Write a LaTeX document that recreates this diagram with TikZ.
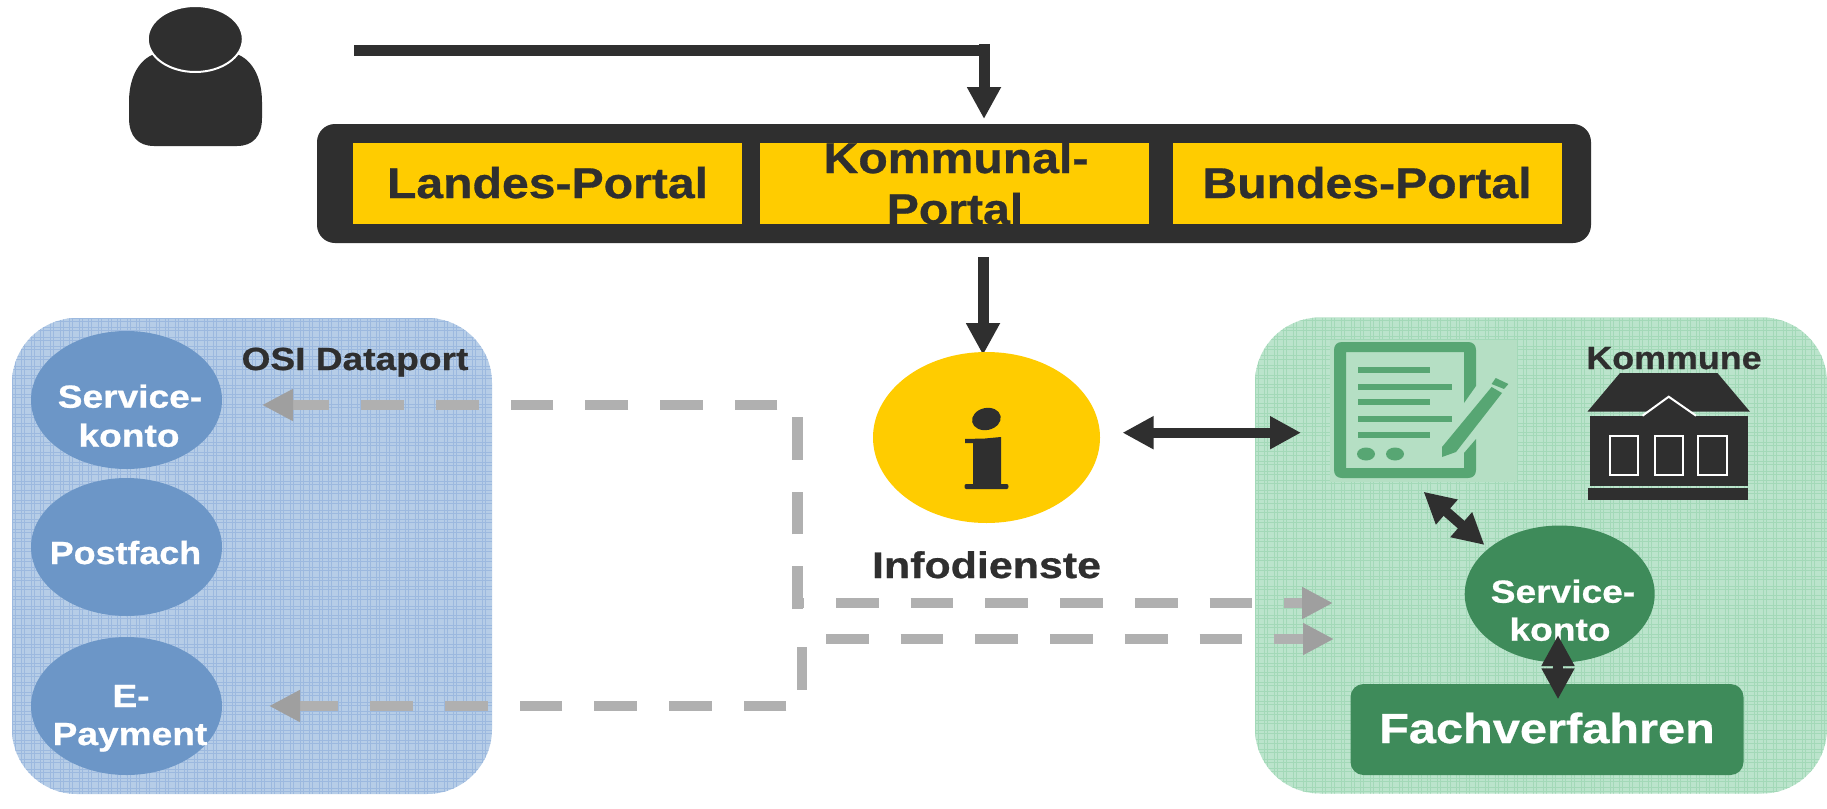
\documentclass[tikz,border=0pt]{standalone}
\usepackage{fontspec}
\usetikzlibrary{arrows.meta,shapes.geometric}
\newfontfamily\lbf{Liberation Sans}[FakeStretch=1.16,BoldFeatures={FakeStretch=1.16,FakeBold=0.7}]
\newfontfamily\lbn{Liberation Sans}[FakeStretch=1.12,BoldFeatures={FakeStretch=1.12,FakeBold=0.7}]
\definecolor{ink}{HTML}{2F2F2F}
\definecolor{gold}{HTML}{FFCC00}
\definecolor{bluebase}{HTML}{B6CDE7}
\definecolor{blueline}{HTML}{9CB9DF}
\definecolor{blueoval}{HTML}{6C96C7}
\definecolor{greenbase}{HTML}{BBE4CC}
\definecolor{greenline}{HTML}{A3D9B8}
\definecolor{greendark}{HTML}{3E8B5A}
\definecolor{iconbg}{HTML}{B5DFC4}
\definecolor{iconfg}{HTML}{57A673}
\definecolor{dashgray}{HTML}{B0B0B0}
\definecolor{tipgray}{HTML}{9F9F9F}
\tikzset{
  x=1pt,y=-1pt,
  oval/.style={ellipse,inner sep=0pt,outer sep=0pt,fill=blueoval,minimum width=191pt,minimum height=138pt},
  txt/.style={inner sep=0pt,outer sep=0pt,anchor=base,align=center,text=#1},
  txt/.default=ink,
  big/.style={font=\lbn\bfseries\fontsize{43}{51}\selectfont},
  mid/.style={font=\lbf\bfseries\fontsize{32}{39}\selectfont},
  midn/.style={font=\lbn\bfseries\fontsize{32}{39}\selectfont},
  yellowbox/.style={rectangle,inner sep=0pt,outer sep=0pt,fill=gold,minimum width=389pt,minimum height=81pt},
  darkarrow/.style={draw=ink,line width=11pt,-{Triangle[length=32pt,width=32pt,color=ink]}},
  dbl/.style={draw=ink,line width=10pt,{Triangle[length=31pt,width=31pt,color=ink]}-{Triangle[length=31pt,width=31pt,color=ink]}},
  grayarrow/.style={draw=dashgray,line width=10.5pt,dash pattern=on 42.7pt off 32pt,-{Triangle[length=31pt,width=30pt,color=tipgray]}},
}
\begin{document}
\begin{tikzpicture}
\useasboundingbox (0,0) rectangle (1827,808);
\fill[white] (0,0) rectangle (1827,808);

% panels
\node[rectangle,rounded corners=65pt,fill=bluebase,inner sep=0pt,minimum width=480pt,minimum height=476pt] (bluepanel) at (252,556) {};
\node[rectangle,rounded corners=65pt,fill=greenbase,inner sep=0pt,minimum width=572pt,minimum height=476pt] (greenpanel) at (1541,555.5) {};
\begin{scope}
\clip[rounded corners=65pt] (12,318) rectangle (492,794);
\foreach \k in {0,...,50}{
  \draw[blueline,line width=.9pt] ({12+\k*9.6},318) -- ++(0,476);
  \draw[blueline,line width=.7pt] ({15+\k*9.6},318) -- ++(0,476);
  \draw[blueline,line width=.9pt] (12,{318+\k*9.6}) -- ++(480,0);
  \draw[blueline,line width=.7pt] (12,{321+\k*9.6}) -- ++(480,0);
}
\end{scope}
\begin{scope}
\clip[rounded corners=65pt] (1255,317.5) rectangle (1827,793.5);
\foreach \k in {0,...,60}{
  \draw[greenline,line width=.9pt] ({1255+\k*9.6},317.5) -- ++(0,476);
  \draw[greenline,line width=.7pt] ({1258+\k*9.6},317.5) -- ++(0,476);
  \draw[greenline,line width=.9pt] (1255,{317.5+\k*9.6}) -- ++(572,0);
  \draw[greenline,line width=.7pt] (1255,{320.5+\k*9.6}) -- ++(572,0);
}
\end{scope}

% person
\fill[ink] (152,55) .. controls (137,62) and (129,80) .. (129,102) -- (129,118)
  .. controls (129,136) and (138,146) .. (154,146) -- (237,146)
  .. controls (253,146) and (262,136) .. (262,118) -- (262,102)
  .. controls (262,80) and (254,62) .. (239,55) -- cycle;
\node[ellipse,fill=ink,draw=white,line width=2pt,inner sep=0pt,minimum width=95pt,minimum height=66pt] (head) at (195.3,39) {};

% top connector
\coordinate (userstart) at (354,50.5);
\coordinate (usercorner) at (990,50.5);
\coordinate (drop) at (984,44);
\coordinate (droptip) at (984,119);
\draw[ink,line width=11pt] (userstart) -- (usercorner);
\draw[darkarrow] (drop) -- (droptip);

% portal bar
\node[rectangle,rounded corners=18pt,fill=ink,inner sep=0pt,minimum width=1274pt,minimum height=119pt] (bar) at (954,183.5) {};
\node[yellowbox] (landes) at (547.5,183.5) {};
\node[yellowbox] (kommunal) at (954.5,183.5) {};
\node[yellowbox] (bundes) at (1367,183.5) {};
\node[txt,big] (tlandes) at (547.5,198) {Landes-Portal};
\node[txt,big] (tkomm) at (956,173) {Kommunal-};
\node[txt,big] (tportal) at (955,224) {Portal};
\node[txt,big] (tbundes) at (1367,198) {Bundes-Portal};

% bar to info
\coordinate (barout) at (983,257);
\coordinate (infoin) at (983,355);
\draw[darkarrow] (barout) -- (infoin);

% info
\node[ellipse,fill=gold,inner sep=0pt,minimum width=227pt,minimum height=171pt] (info) at (986.5,437.5) {};
\fill[ink,rotate around={12:(986.4,419)}] (986.4,419) ellipse [x radius=14.5,y radius=11];
\fill[ink] (965,439) -- (985,438.5) -- (1001,437) -- (1001,484) -- (1007,484)
  .. controls (1009,484) and (1009,489) .. (1007,489) -- (966,489)
  .. controls (964,489) and (964,484) .. (966,484) -- (973,484) -- (973,443) -- (965,443) -- cycle;
\node[txt,font=\lbf\bfseries\fontsize{37}{44}\selectfont] (tinfo) at (986.5,578) {Infodienste};

% blue ovals
\node[oval] (svc1) at (126.5,400) {};
\node[oval] (post) at (126.5,547) {};
\node[oval] (pay) at (126.5,706) {};
\node[txt=white,mid] (tsvc1a) at (130,407.7) {Service-};
\node[txt=white,mid] (tsvc1b) at (129,446.7) {konto};
\node[txt=white,midn] (tpost) at (125.5,564) {Postfach};
\node[txt=white,mid] (tpaya) at (131,707) {E-};
\node[txt=white,mid] (tpayb) at (130,745) {Payment};
\node[txt,mid] (tosi) at (355,370) {OSI Dataport};

% form icon
\fill[iconbg] (1330,340) rectangle (1517,482);
\fill[iconfg] (1476,386) -- (1476,350) .. controls (1476,345) and (1473,342) .. (1468,342)
  -- (1342,342) .. controls (1337,342) and (1334,345) .. (1334,350)
  -- (1334,470) .. controls (1334,475) and (1337,478) .. (1342,478)
  -- (1468,478) .. controls (1473,478) and (1476,475) .. (1476,470)
  -- (1476,439) -- (1464,453) -- (1464,468) -- (1346,468) -- (1346,352) -- (1464,352) -- (1464,403) -- cycle;
\foreach \yy/\xe in {370/1430,387/1451.5,402/1430,419/1451.5,435/1430}{
  \fill[iconfg] (1358,\yy-3) rectangle (\xe,\yy+3);
}
\fill[iconfg] (1366,454) ellipse [x radius=9,y radius=6.5];
\fill[iconfg] (1395,454) ellipse [x radius=9,y radius=6.5];
\fill[iconfg] (1442,457) -- (1442,447) -- (1491.6,387) -- (1502,393) -- (1456,452) -- cycle;
\fill[iconfg] (1491.6,384) -- (1495.7,378) -- (1508.4,384) -- (1504,389) -- cycle;

% house
\fill[ink] (1587.4,411.7) -- (1620,373) -- (1717.4,373) -- (1750,411.7) -- cycle;
\fill[ink] (1642.5,416) -- (1668.7,396.7) -- (1696,416) -- cycle;
\fill[ink] (1590,416) rectangle (1748,486);
\fill[ink] (1588,488) rectangle (1748,500);
\draw[white,line width=2pt] (1642.5,415.7) -- (1668.7,396.7) -- (1696,415.7);
\foreach \a/\b in {1609.5/1637.6,1654.5/1683,1697.5/1726.7}{
  \draw[white,line width=2pt] (\a,436) rectangle (\b,475);
}
\node[txt,midn] (tkommune) at (1674,369) {Kommune};

% green elements
\node[ellipse,fill=greendark,inner sep=0pt,minimum width=190pt,minimum height=137pt] (svc2) at (1559.7,594) {};
\node[txt=white,mid] (tsvc2a) at (1563,602.7) {Service-};
\node[txt=white,mid] (tsvc2b) at (1560,640.7) {konto};
\node[rectangle,rounded corners=13pt,fill=greendark,inner sep=0pt,minimum width=393pt,minimum height=91pt] (fach) at (1547,729.5) {};
\node[txt=white,font=\lbf\bfseries\fontsize{42}{48}\selectfont] (tfach) at (1547,743) {Fachverfahren};

% double arrows
\coordinate (infoR) at (1122.5,432.7);
\coordinate (formL) at (1301,432.7);
\draw[dbl] (infoR) -- (formL);
\coordinate (formB) at (1423.5,491.7);
\coordinate (svcT) at (1484.5,545);
\draw[dbl] (formB) -- (svcT);
\coordinate (svcB) at (1558,635);
\coordinate (fachT) at (1558,699.3);
\draw[dbl] (svcB) -- (fachT);

% dashed gray connectors
\coordinate (c1start) at (797.5,609);
\coordinate (c1bend) at (797.5,405);
\coordinate (c1tip) at (262,405);
\draw[grayarrow] (c1start) -- (c1bend) -- (c1tip);
\coordinate (c2start) at (797.5,603);
\coordinate (c2tip) at (1333,603);
\draw[grayarrow,dash phase=36.2pt] (c2start) -- (c2tip);
\coordinate (c3start) at (802,639);
\coordinate (c3tip) at (1334,639);
\draw[grayarrow,dash phase=50.7pt] (c3start) -- (c3tip);
\coordinate (c4bend) at (802,706);
\coordinate (c4tip) at (269,706);
\draw[grayarrow,dash phase=66.7pt] (c3start) -- (c4bend) -- (c4tip);
\end{tikzpicture}
\end{document}
